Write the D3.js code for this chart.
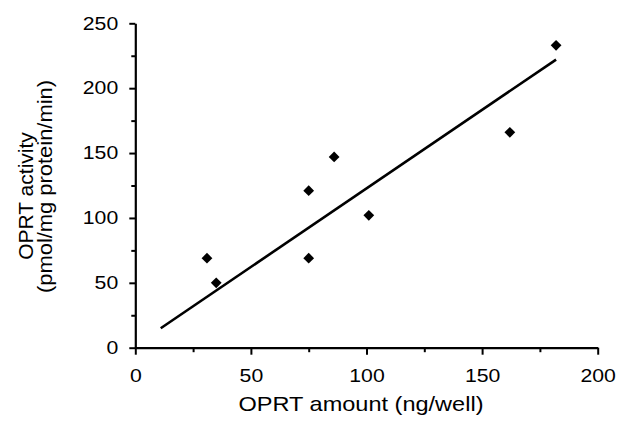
<!DOCTYPE html>
<html>
<head>
<meta charset="utf-8">
<script src="https://cdn.jsdelivr.net/npm/d3@7"></script>
<style>
  body { margin: 0; background: #fff; }
  text { font-family: "Liberation Sans", Arial, Helvetica, sans-serif; fill: #000; }
</style>
</head>
<body>
<div class="chart"></div>
<script>
    var amount   = [31, 35, 75, 75, 86, 101, 162, 182];
    var activity = [69, 50, 69, 121, 147, 102, 166, 233];

    // regression line end points
    var fitX = [11, 182];
    var fitY = [15, 222];

    var xTicks = [0, 50, 100, 150, 200];
    var yTicks = [0, 50, 100, 150, 200, 250];
    var xMinor = [25, 75, 125, 175];
    var yMinor = [25, 75, 125, 175, 225];

    var width = 617, height = 425;
    var margin = {top: 23.3, right: 19.3, bottom: 77.3, left: 135.3};

    var svg = d3.select(".chart")
            .append("svg")
            .attr("width", width)
            .attr("height", height);

    var x = d3.scaleLinear()
            .domain([0, 200])
            .range([margin.left, width - margin.right]);

    var y = d3.scaleLinear()
            .domain([0, 250])
            .range([height - margin.bottom, margin.top]);

    // minor ticks first, the main axes draw over them
    svg.append("g")
            .attr("transform", "translate(0," + y(0) + ")")
            .call(d3.axisBottom(x).tickValues(xMinor).tickSize(4.5).tickFormat(""))
            .call(function(g) { g.select(".domain").remove(); })
            .selectAll("line").attr("stroke-width", 2);

    svg.append("g")
            .attr("transform", "translate(" + x(0) + ",0)")
            .call(d3.axisLeft(y).tickValues(yMinor).tickSize(4).tickFormat(""))
            .call(function(g) { g.select(".domain").remove(); })
            .selectAll("line").attr("stroke-width", 2);

    var xAxis = svg.append("g")
            .attr("transform", "translate(0," + y(0) + ")")
            .call(d3.axisBottom(x).tickValues(xTicks).tickSizeInner(7).tickSizeOuter(0).tickPadding(15));

    var yAxis = svg.append("g")
            .attr("transform", "translate(" + x(0) + ",0)")
            .call(d3.axisLeft(y).tickValues(yTicks).tickSizeInner(6).tickSizeOuter(0).tickPadding(8.5));

    [xAxis, yAxis].forEach(function(ax) {
        ax.select(".domain").attr("stroke-width", 2.2);
        ax.selectAll(".tick line").attr("stroke-width", 2);
        ax.selectAll(".tick text")
                .attr("font-size", "18px")
                .attr("font-family", null)
                .attr("transform", "scale(1.18,1)");
    });

    // fitted line
    var line = d3.line()
            .x(function(d) { return x(d[0]); })
            .y(function(d) { return y(d[1]); });

    svg.append("path")
            .datum(d3.zip(fitX, fitY))
            .attr("d", line)
            .attr("fill", "none")
            .attr("stroke", "#000")
            .attr("stroke-width", 2.6);

    // diamonds
    svg.selectAll(".pt")
            .data(d3.zip(amount, activity))
            .enter()
            .append("path")
            .attr("class", "pt")
            .attr("d", d3.symbol(d3.symbolSquare, 58))
            .attr("transform", function(d) {
                return "translate(" + x(d[0]) + "," + y(d[1]) + ") rotate(45)";
            })
            .attr("fill", "#000");

    // axis titles
    svg.append("text")
            .attr("x", 361)
            .attr("y", 411)
            .attr("text-anchor", "middle")
            .attr("font-size", "21px")
            .attr("textLength", 245)
            .attr("lengthAdjust", "spacingAndGlyphs")
            .text("OPRT amount (ng/well)");

    svg.append("text")
            .attr("transform", "translate(33,196) rotate(-90)")
            .attr("text-anchor", "middle")
            .attr("font-size", "21px")
            .text("OPRT activity");

    svg.append("text")
            .attr("transform", "translate(51.5,186.5) rotate(-90)")
            .attr("text-anchor", "middle")
            .attr("font-size", "21px")
            .attr("textLength", 213)
            .attr("lengthAdjust", "spacingAndGlyphs")
            .text("(pmol/mg protein/min)");
</script>
</body>
</html>
